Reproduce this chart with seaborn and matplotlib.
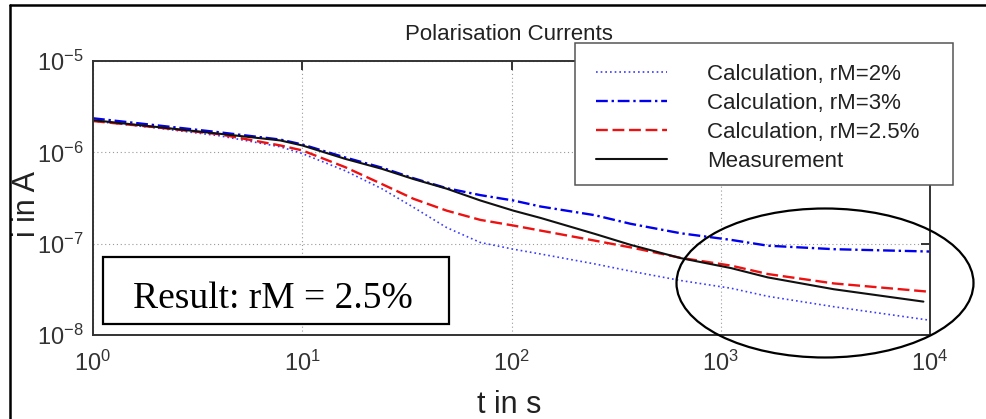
import numpy as np
import pandas as pd
import matplotlib
matplotlib.use("Agg")
import matplotlib.pyplot as plt
from matplotlib.patches import Rectangle, Ellipse
from matplotlib.lines import Line2D
from matplotlib.ticker import NullLocator, LogLocator
import seaborn as sns

# ---- data -------------------------------------------------------------
t_calc = [1, 2, 4, 7.85, 10, 16, 24, 34, 49, 71, 102, 138, 250, 371, 643,
          1120, 1680, 3470, 10000]
t_meas = [1, 2, 4, 7.85, 10, 16, 24, 34, 49, 71, 102, 138, 250, 371, 643,
          1120, 1680, 3470, 9300]

i_rm2 = [2.2e-6, 1.85e-6, 1.52e-6, 1.15e-6, 9.7e-7, 6.3e-7, 4.0e-7, 2.5e-7,
         1.5e-7, 1.03e-7, 8.7e-8, 7.7e-8, 6.0e-8, 5.0e-8, 3.95e-8,
         3.25e-8, 2.65e-8, 2.04e-8, 1.45e-8]
i_rm3 = [2.36e-6, 1.98e-6, 1.66e-6, 1.38e-6, 1.22e-6, 8.8e-7, 6.8e-7, 5.2e-7,
         4.05e-7, 3.4e-7, 2.97e-7, 2.55e-7, 2.05e-7, 1.65e-7, 1.3e-7,
         1.1e-7, 9.5e-8, 8.7e-8, 8.2e-8]
i_rm25 = [2.2e-6, 1.88e-6, 1.58e-6, 1.19e-6, 1.05e-6, 6.9e-7, 4.5e-7, 3.1e-7,
          2.3e-7, 1.82e-7, 1.58e-7, 1.39e-7, 1.08e-7, 9.1e-8, 7.0e-8,
          5.75e-8, 4.65e-8, 3.67e-8, 2.97e-8]
i_meas = [2.25e-6, 1.9e-6, 1.6e-6, 1.35e-6, 1.19e-6, 8.5e-7, 6.6e-7, 5.1e-7,
          4.0e-7, 2.97e-7, 2.3e-7, 1.91e-7, 1.28e-7, 9.7e-8, 6.95e-8,
          5.4e-8, 4.27e-8, 3.17e-8, 2.32e-8]

labels = ["Calculation, rM=2%", "Calculation, rM=3%",
          "Calculation, rM=2.5%", "Measurement"]

# ---- style ------------------------------------------------------------
sns.set_theme(style="white")
plt.rcParams["font.family"] = ["Liberation Sans", "DejaVu Sans"]
plt.rcParams["mathtext.fontset"] = "custom"
plt.rcParams["mathtext.rm"] = "Liberation Sans"
plt.rcParams["mathtext.it"] = "Liberation Sans:italic"
plt.rcParams["mathtext.bf"] = "Liberation Sans:bold"

W, H = 986, 419
fig = plt.figure(figsize=(W / 100, H / 100), dpi=100)
fig.patch.set_facecolor("white")


def fx(px):
    return px / W


def fy(py):
    return 1 - py / H


ax = fig.add_axes([fx(93), fy(335), fx(930) - fx(93), fy(61) - fy(335)])

series = [
    (t_calc, i_rm2, "#3a3aff", 1.2, (0, (1, 1.8))),
    (t_calc, i_rm3, "#0000ee", 1.7, (0, (5, 1.6, 1, 1.6))),
    (t_calc, i_rm25, "#ee1111", 1.7, (0, (5, 2))),
    (t_meas, i_meas, "#111111", 1.5, "-"),
]

handles = []
for (tt, ii, col, lw, ls), lab in zip(series, labels):
    df = pd.DataFrame({"t": tt, "i": ii})
    sns.lineplot(data=df, x="t", y="i", ax=ax, color=col, linewidth=lw,
                 linestyle=ls, estimator=None, legend=False)
    handles.append(Line2D([], [], color=col, linewidth=lw, linestyle=ls))

ax.set_xscale("log")
ax.set_yscale("log")
ax.set_xlim(1, 1e4)
ax.set_ylim(1e-8, 1e-5)
ax.xaxis.set_major_locator(LogLocator(base=10, numticks=10))
ax.yaxis.set_major_locator(LogLocator(base=10, numticks=10))
ax.xaxis.set_minor_locator(NullLocator())
ax.yaxis.set_minor_locator(NullLocator())
ax.set_xlabel("")
ax.set_ylabel("")

ax.grid(True, which="major", color="#999999", linewidth=0.8,
        linestyle=(0, (1, 2.5)))
ax.set_axisbelow(True)
ax.tick_params(which="major", direction="in", length=6.5, width=1.4,
               top=True, right=True, labelsize=17, labelcolor="#333333",
               color="#333333")
ax.tick_params(axis="x", pad=11)
ax.tick_params(axis="y", pad=7)
for sp in ax.spines.values():
    sp.set_color("#333333")
    sp.set_linewidth(1.4)

# ---- texts ------------------------------------------------------------
fig.text(fx(509), fy(40), "Polarisation Currents", ha="center",
         va="baseline", fontsize=16, color="#222222")
fig.text(fx(509), fy(413), "t in s", ha="center", va="baseline",
         fontsize=22, color="#222222")
fig.text(fx(27), fy(204), "i in A", ha="center", va="center",
         rotation=90, fontsize=22, color="#222222")

# ---- legend with its frame -------------------------------------------
fig.add_artist(Rectangle((fx(575), fy(185)), fx(953) - fx(575),
                         fy(43) - fy(185), transform=fig.transFigure,
                         facecolor="white", edgecolor="#555555",
                         linewidth=1.1, zorder=3))
leg = fig.legend(handles, labels, loc="upper left",
                 bbox_to_anchor=(fx(575), fy(43)),
                 bbox_transform=fig.transFigure, frameon=False,
                 borderaxespad=0, borderpad=0.95, fontsize=16,
                 handlelength=3.2, handletextpad=1.8, labelspacing=0.36)
leg.set_zorder(5)
for txt in leg.get_texts():
    txt.set_color("#222222")

# ---- result box -------------------------------------------------------
fig.add_artist(Rectangle((fx(103), fy(324)), fx(449) - fx(103),
                         fy(257) - fy(324), transform=fig.transFigure,
                         facecolor="white", edgecolor="black",
                         linewidth=1.6, zorder=3))
fig.text(fx(273), fy(308), "Result: rM = 2.5%", ha="center",
         va="baseline", fontsize=27, family="Liberation Serif",
         color="black", zorder=4)

# ---- highlight ellipse ------------------------------------------------
fig.add_artist(Ellipse((fx(825), fy(283)), fx(297), 149 / H,
                       transform=fig.transFigure, fill=False,
                       edgecolor="black", linewidth=1.6, zorder=4))

# ---- outer frame ------------------------------------------------------
fig.add_artist(Line2D([fx(10), 1], [fy(5), fy(5)], color="black",
                      linewidth=1.8, transform=fig.transFigure, zorder=6))
fig.add_artist(Line2D([fx(10), fx(10)], [0, fy(5)], color="black",
                      linewidth=1.8, transform=fig.transFigure, zorder=6))

fig.savefig("out.png", dpi=100)
